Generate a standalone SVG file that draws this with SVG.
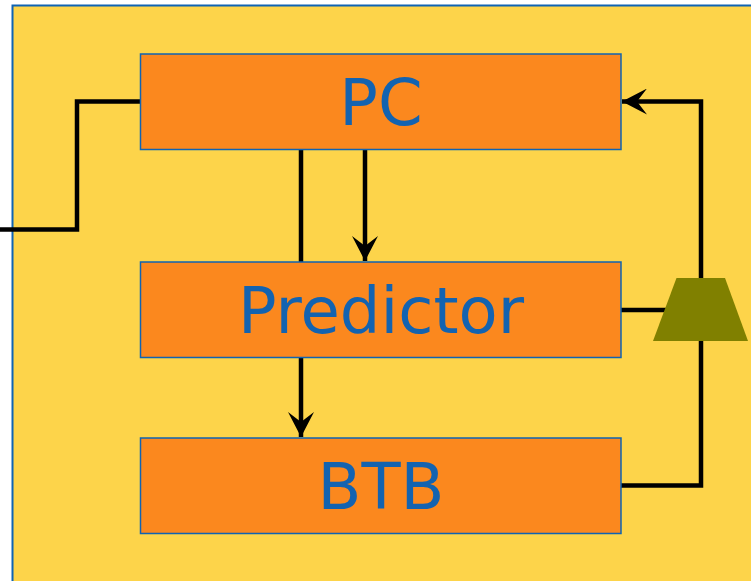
<svg xmlns="http://www.w3.org/2000/svg" width="751" height="581" viewBox="0 0 751 581">
<defs>
<style>
.box{fill:#FB881E;stroke:#0F63B3;stroke-width:1.5}
.lbl{font-family:"DejaVu Sans",Verdana,sans-serif;font-size:64px;fill:#1363B0;text-anchor:middle}
.wire{fill:none;stroke:#000;stroke-width:4.5}
</style>
<marker id="ah" markerUnits="userSpaceOnUse" markerWidth="25" markerHeight="26" viewBox="0 0 25 26" refX="25" refY="13" orient="auto">
<path d="M0,0 L25,13 L0,26 L10,13 Z" fill="#000"/>
</marker>
</defs>
<rect x="0" y="0" width="751" height="581" fill="#fff"/>
<rect x="12.5" y="5.5" width="745" height="585" fill="#FDD44A" stroke="#0F63B3" stroke-width="2"/>
<g id="connectors">
<polyline class="wire" points="0,229.5 77,229.5 77,101.5 140,101.5"/>
<line class="wire" x1="301" y1="149.5" x2="301" y2="262"/>
<line class="wire" x1="365" y1="149.5" x2="365" y2="261" marker-end="url(#ah)"/>
<line class="wire" x1="301" y1="357" x2="301" y2="437" marker-end="url(#ah)"/>
<polyline class="wire" points="621,485.5 701,485.5 701,101.5 622,101.5" marker-end="url(#ah)"/>
<line class="wire" x1="621" y1="310" x2="668" y2="310"/>
</g>
<g id="mux">
<polygon points="676.5,278 725,278 748,341 653,341" fill="#808000"/>
</g>
<g id="pc">
<rect class="box" x="140.5" y="54" width="480.5" height="95.5"/>
<text class="lbl" x="381" y="124.5">PC</text>
</g>
<g id="predictor">
<rect class="box" x="140.5" y="262" width="480.5" height="95.5"/>
<text class="lbl" x="381" y="333">Predictor</text>
</g>
<g id="btb">
<rect class="box" x="140.5" y="438" width="480.5" height="95.5"/>
<text class="lbl" x="381" y="509">BTB</text>
</g>
</svg>
